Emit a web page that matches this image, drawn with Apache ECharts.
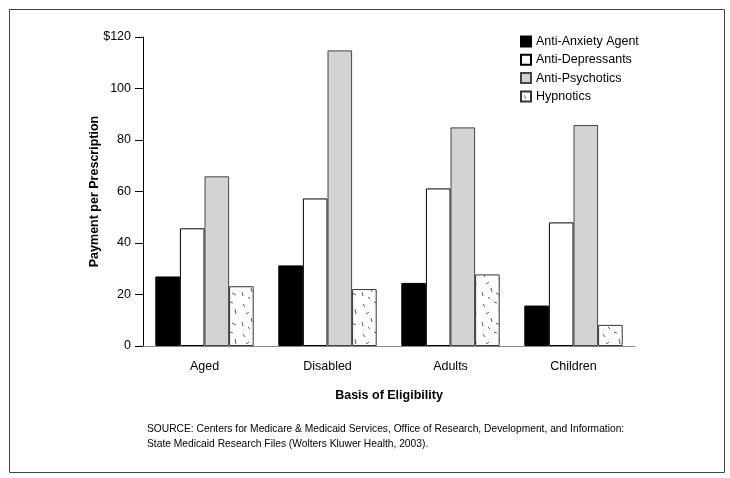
<!DOCTYPE html>
<html><head><meta charset="utf-8">
<script src="https://cdn.jsdelivr.net/npm/echarts@6/dist/echarts.min.js"></script>
<style>html,body{margin:0;padding:0;background:#fff}#c{width:730px;height:478px}</style>
</head><body><div id="c"></div>
<script>
const categories = ['Aged', 'Disabled', 'Adults', 'Children'];
const antiAnxiety = [27.0, 31.3, 24.5, 15.7];
const antiDepressants = [45.7, 57.3, 61.2, 48.0];
const antiPsychotics = [65.9, 114.8, 84.9, 85.8];
const hypnotics = [23.2, 22.1, 27.8, 8.2];
const seriesNames = ['Anti-Anxiety Agent', 'Anti-Depressants', 'Anti-Psychotics', 'Hypnotics'];
const yTicks = [0, 20, 40, 60, 80, 100, 120];

// speckle pattern for Hypnotics
const pc = document.createElement('canvas');
pc.width = 24; pc.height = 30;
const g = pc.getContext('2d');
g.fillStyle = '#fff'; g.fillRect(0, 0, 24, 30);
g.strokeStyle = '#333'; g.lineWidth = 0.8;
[[3,4,5,7],[14,2,17,3],[19,9,20,14],[6,14,9,12],[11,18,12,22],[2,22,3,26],[16,23,20,25],[8,27,10,29]].forEach(s => {
  g.beginPath(); g.moveTo(s[0], s[1]); g.lineTo(s[2], s[3]); g.stroke();
});

const font = 'Liberation Sans, Arial, Helvetica, sans-serif';
const chart = echarts.init(document.getElementById('c'));
const styles = [
  {color: '#000', borderColor: '#000', borderWidth: 1},
  {color: '#fff', borderColor: '#000', borderWidth: 1},
  {color: '#d3d3d3', borderColor: '#444', borderWidth: 1},
  {color: {image: pc, repeat: 'repeat'}, borderColor: '#333', borderWidth: 1}
];
const datas = [antiAnxiety, antiDepressants, antiPsychotics, hypnotics];
chart.setOption({
  animation: false,
  textStyle: {fontFamily: font},
  grid: {left: 143, right: 95, top: 37, bottom: 132},
  legend: {
    orient: 'vertical', left: 515, top: 30, itemWidth: 10, itemHeight: 10, itemGap: 5.3,
    icon: 'rect',
    textStyle: {fontSize: 12.5, color: '#000', fontFamily: font},
    data: seriesNames
  },
  xAxis: {
    type: 'category', data: categories,
    axisLine: {lineStyle: {color: '#888', width: 1}},
    axisTick: {show: false},
    axisLabel: {color: '#000', fontSize: 12.5, margin: 14},
    name: 'Basis of Eligibility', nameLocation: 'middle', nameGap: 43,
    nameTextStyle: {fontWeight: 'bold', fontSize: 12.5, color: '#000'}
  },
  yAxis: {
    type: 'value', min: 0, max: 120, interval: 20,
    axisLine: {show: true, lineStyle: {color: '#000'}},
    axisTick: {show: true, length: 8, lineStyle: {color: '#000'}},
    splitLine: {show: false},
    axisLabel: {color: '#000', fontSize: 12.5, margin: 12,
      formatter: v => v === yTicks[yTicks.length - 1] ? '$' + v : String(v)},
    name: 'Payment per Prescription', nameLocation: 'middle', nameGap: 42,
    nameMoveOverlap: false,
    nameTextStyle: {fontWeight: 'bold', fontSize: 12.5, color: '#000'}
  },
  series: seriesNames.map((n, i) => ({
    name: n, type: 'bar', data: datas[i], barGap: '0%', barCategoryGap: '20%',
    itemStyle: styles[i]
  })),
  graphic: [
    {type: 'rect', left: 7, top: 7, shape: {width: 715, height: 463},
     style: {fill: 'none', stroke: '#444', lineWidth: 1}, silent: true},
    {type: 'text', left: 147, top: 421,
     style: {text: 'SOURCE: Centers for Medicare & Medicaid Services, Office of Research, Development, and Information:\nState Medicaid Research Files (Wolters Kluwer Health, 2003).',
       font: '10.25px ' + font, fill: '#000', lineHeight: 15.5}}
  ]
});
</script></body></html>
